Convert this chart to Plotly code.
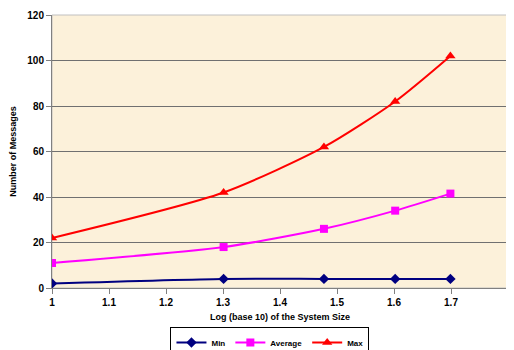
import plotly.graph_objects as go

x_vals = [1.0, 1.30103, 1.47712, 1.60206, 1.69897]
min_vals = [2, 4, 4, 4, 4]
avg_vals = [11, 18, 26, 34, 41.5]
max_vals = [22, 42, 62, 82, 102]
x_ticks = [1, 1.1, 1.2, 1.3, 1.4, 1.5, 1.6, 1.7, 1.8]
y_ticks = [0, 20, 40, 60, 80, 100, 120]

fig = go.Figure()
fig.add_trace(go.Scatter(x=x_vals, y=min_vals, name="Min", mode="lines+markers",
                         line=dict(color="#000080", width=2, shape="spline", smoothing=0.7),
                         marker=dict(symbol="diamond", size=8, color="#000080")))
fig.add_trace(go.Scatter(x=x_vals, y=avg_vals, name="Average", mode="lines+markers",
                         line=dict(color="#FF00FF", width=2, shape="spline", smoothing=0.7),
                         marker=dict(symbol="square", size=8, color="#FF00FF")))
fig.add_trace(go.Scatter(x=x_vals, y=max_vals, name="Max", mode="lines+markers",
                         line=dict(color="#FF0000", width=2, shape="spline", smoothing=0.7),
                         marker=dict(symbol="triangle-up", size=9, color="#FF0000")))

font_fam = "Liberation Sans, Arial, sans-serif"
fig.update_layout(
    width=506, height=342,
    margin=dict(l=44, r=6, t=7, b=62, autoexpand=False),
    paper_bgcolor="white",
    plot_bgcolor="#FCF1DA",
    font=dict(family=font_fam, size=9, color="black"),
    showlegend=True,
    legend=dict(orientation="h", x=0.478, xanchor="center", y=-0.143, yanchor="top",
                bordercolor="black", borderwidth=1, bgcolor="white",
                font=dict(family=font_fam, size=8, color="black", weight="bold"),
                itemwidth=30, tracegroupgap=0),
    xaxis=dict(range=[1, 1.8], tickvals=x_ticks, ticktext=[f"{t:g}" for t in x_ticks],
               automargin=False,
               showgrid=False, zeroline=False, showline=True, linecolor="#808080", linewidth=1,
               ticks="outside", ticklen=5, tickcolor="#808080",
               tickfont=dict(family=font_fam, size=10, color="black", weight="bold"),
               title=dict(text="<b>Log (base 10) of the System Size</b>", font=dict(size=9), standoff=6),
               mirror=False),
    yaxis=dict(range=[0, 120], tickvals=y_ticks, showgrid=True, gridcolor="#707070", gridwidth=1,
               automargin=False,
               zeroline=False, showline=True, linecolor="#808080", linewidth=1,
               ticks="outside", ticklen=5, tickcolor="#808080",
               tickfont=dict(family=font_fam, size=10, color="black", weight="bold"),
               title=dict(text="<b>Number of Messages</b>", font=dict(size=9), standoff=10)),
)
fig.add_shape(type="rect", xref="paper", yref="paper", x0=0, y0=0, x1=1, y1=1,
              line=dict(color="#C0C0C0", width=1), fillcolor="rgba(0,0,0,0)", layer="below")
fig.write_html("out.html")
